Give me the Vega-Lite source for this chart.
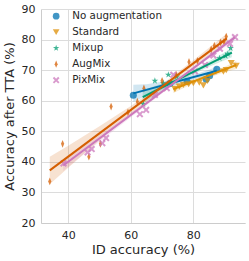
{
  "$schema": "https://vega.github.io/schema/vega-lite/v6.json",
  "width": 204,
  "height": 214,
  "autosize": {"type": "none"},
  "padding": {"left": 41, "top": 9, "right": 4, "bottom": 38},
  "config": {
    "font": "DejaVu Sans",
    "view": {"stroke": null},
    "axis": {
      "grid": true, "gridColor": "#dcdcdc", "gridWidth": 1,
      "domain": true, "domainColor": "#cccccc", "domainWidth": 1,
      "ticks": false, "labelColor": "#262626", "titleColor": "#262626",
      "labelFontSize": 11, "titleFontSize": 13, "titleFontWeight": "normal",
      "labelPadding": 6, "labelOverlap": false
    },
    "legend": {
      "orient": "none", "legendX": 10, "legendY": 2, "title": null,
      "labelFontSize": 10.3, "labelColor": "#262626", "symbolSize": 45,
      "symbolOpacity": 0.75, "rowPadding": 5, "labelOffset": 11, "symbolStrokeWidth": 0
    }
  },
  "datasets": {
    "pts": [
      {"group": "No augmentation", "id": 60.8, "tta": 61.8},
      {"group": "No augmentation", "id": 72.5, "tta": 65.6},
      {"group": "No augmentation", "id": 78.0, "tta": 66.3},
      {"group": "No augmentation", "id": 84.1, "tta": 67.0},
      {"group": "No augmentation", "id": 85.2, "tta": 68.2},
      {"group": "No augmentation", "id": 87.5, "tta": 70.3},
      {"group": "Standard", "id": 74.1, "tta": 63.8},
      {"group": "Standard", "id": 75.5, "tta": 64.6},
      {"group": "Standard", "id": 76.8, "tta": 65.2},
      {"group": "Standard", "id": 78.5, "tta": 65.4},
      {"group": "Standard", "id": 80.0, "tta": 65.7},
      {"group": "Standard", "id": 81.9, "tta": 65.9},
      {"group": "Standard", "id": 83.2, "tta": 65.0},
      {"group": "Standard", "id": 84.5, "tta": 66.5},
      {"group": "Standard", "id": 89.6, "tta": 69.5},
      {"group": "Standard", "id": 90.5, "tta": 70.0},
      {"group": "Standard", "id": 92.1, "tta": 72.3},
      {"group": "Standard", "id": 93.7, "tta": 71.4},
      {"group": "Mixup", "id": 64.0, "tta": 58.9},
      {"group": "Mixup", "id": 67.7, "tta": 66.5},
      {"group": "Mixup", "id": 70.4, "tta": 65.7},
      {"group": "Mixup", "id": 72.0, "tta": 68.5},
      {"group": "Mixup", "id": 74.7, "tta": 67.9},
      {"group": "Mixup", "id": 88.4, "tta": 73.9},
      {"group": "Mixup", "id": 90.3, "tta": 74.7},
      {"group": "Mixup", "id": 91.0, "tta": 75.3},
      {"group": "Mixup", "id": 91.9, "tta": 77.2},
      {"group": "AugMix", "id": 34.1, "tta": 33.6},
      {"group": "AugMix", "id": 38.2, "tta": 45.9},
      {"group": "AugMix", "id": 46.6, "tta": 41.7},
      {"group": "AugMix", "id": 50.3, "tta": 45.9},
      {"group": "AugMix", "id": 53.7, "tta": 58.1},
      {"group": "AugMix", "id": 59.1, "tta": 56.2},
      {"group": "AugMix", "id": 62.1, "tta": 59.7},
      {"group": "AugMix", "id": 64.2, "tta": 64.0},
      {"group": "AugMix", "id": 70.0, "tta": 66.5},
      {"group": "AugMix", "id": 74.5, "tta": 68.5},
      {"group": "AugMix", "id": 78.6, "tta": 72.7},
      {"group": "AugMix", "id": 81.3, "tta": 73.0},
      {"group": "AugMix", "id": 85.7, "tta": 76.8},
      {"group": "AugMix", "id": 86.7, "tta": 78.0},
      {"group": "AugMix", "id": 88.7, "tta": 79.1},
      {"group": "AugMix", "id": 89.8, "tta": 79.3},
      {"group": "AugMix", "id": 90.5, "tta": 81.0},
      {"group": "PixMix", "id": 38.5, "tta": 39.5},
      {"group": "PixMix", "id": 46.2, "tta": 43.1},
      {"group": "PixMix", "id": 47.5, "tta": 44.2},
      {"group": "PixMix", "id": 50.9, "tta": 46.1},
      {"group": "PixMix", "id": 52.1, "tta": 47.8},
      {"group": "PixMix", "id": 62.9, "tta": 55.6},
      {"group": "PixMix", "id": 64.9, "tta": 57.0},
      {"group": "PixMix", "id": 67.7, "tta": 61.9},
      {"group": "PixMix", "id": 71.5, "tta": 64.1},
      {"group": "PixMix", "id": 73.6, "tta": 68.5},
      {"group": "PixMix", "id": 80.5, "tta": 69.6},
      {"group": "PixMix", "id": 83.7, "tta": 71.7},
      {"group": "PixMix", "id": 86.4, "tta": 74.8},
      {"group": "PixMix", "id": 88.5, "tta": 77.0},
      {"group": "PixMix", "id": 91.7, "tta": 78.6},
      {"group": "PixMix", "id": 93.3, "tta": 80.8}
    ],
    "lines": [
      {"group": "No augmentation", "id": 60.8, "tta": 62.4},
      {"group": "No augmentation", "id": 87.5, "tta": 69.8},
      {"group": "Standard", "id": 73.6, "tta": 63.8},
      {"group": "Standard", "id": 93.7, "tta": 71.7},
      {"group": "Mixup", "id": 63.8, "tta": 61.2},
      {"group": "Mixup", "id": 92.3, "tta": 75.7},
      {"group": "AugMix", "id": 34.1, "tta": 37.2},
      {"group": "AugMix", "id": 90.7, "tta": 80.4},
      {"group": "PixMix", "id": 38.4, "tta": 38.8},
      {"group": "PixMix", "id": 93.3, "tta": 80.8}
    ],
    "bands": [
      {"group": "No augmentation", "id": 60.8, "tta": 59.6, "hi": 65.2},
      {"group": "No augmentation", "id": 65, "tta": 61.7, "hi": 65.4},
      {"group": "No augmentation", "id": 70, "tta": 63.7, "hi": 66.2},
      {"group": "No augmentation", "id": 75, "tta": 65.4, "hi": 67.2},
      {"group": "No augmentation", "id": 80, "tta": 66.9, "hi": 68.5},
      {"group": "No augmentation", "id": 85, "tta": 68.1, "hi": 70.1},
      {"group": "No augmentation", "id": 87.5, "tta": 68.5, "hi": 71.1},
      {"group": "Standard", "id": 73.6, "tta": 62.5, "hi": 65.1},
      {"group": "Standard", "id": 80, "tta": 65.6, "hi": 67.0},
      {"group": "Standard", "id": 85, "tta": 67.6, "hi": 69.0},
      {"group": "Standard", "id": 90, "tta": 69.35, "hi": 71.15},
      {"group": "Standard", "id": 93.7, "tta": 70.4, "hi": 73.0},
      {"group": "Mixup", "id": 63.8, "tta": 59.0, "hi": 63.4},
      {"group": "Mixup", "id": 70, "tta": 63.06, "hi": 65.66},
      {"group": "Mixup", "id": 75, "tta": 66.0, "hi": 67.8},
      {"group": "Mixup", "id": 80, "tta": 68.65, "hi": 70.25},
      {"group": "Mixup", "id": 85, "tta": 71.09, "hi": 72.89},
      {"group": "Mixup", "id": 92.3, "tta": 74.2, "hi": 77.2},
      {"group": "AugMix", "id": 34.1, "tta": 32.7, "hi": 41.7},
      {"group": "AugMix", "id": 40, "tta": 38.1, "hi": 45.3},
      {"group": "AugMix", "id": 50, "tta": 47.04, "hi": 51.64},
      {"group": "AugMix", "id": 60, "tta": 55.67, "hi": 58.27},
      {"group": "AugMix", "id": 70, "tta": 63.7, "hi": 65.5},
      {"group": "AugMix", "id": 80, "tta": 71.24, "hi": 73.24},
      {"group": "AugMix", "id": 90.7, "tta": 78.8, "hi": 82.0},
      {"group": "PixMix", "id": 38.4, "tta": 37.0, "hi": 40.6},
      {"group": "PixMix", "id": 45, "tta": 42.55, "hi": 45.15},
      {"group": "PixMix", "id": 55, "tta": 50.6, "hi": 52.4},
      {"group": "PixMix", "id": 65, "tta": 58.55, "hi": 59.75},
      {"group": "PixMix", "id": 75, "tta": 66.3, "hi": 67.3},
      {"group": "PixMix", "id": 85, "tta": 73.85, "hi": 75.05},
      {"group": "PixMix", "id": 93.3, "tta": 79.9, "hi": 81.7}
    ]
  },
  "encoding": {
    "x": {"field": "id", "type": "quantitative", "scale": {"domain": [31.3, 96.5], "nice": false, "zero": false}, "axis": {"values": [40, 60, 80], "title": "ID accuracy (%)", "titlePadding": 3}},
    "y": {"field": "tta", "type": "quantitative", "scale": {"domain": [20, 90], "nice": false, "zero": false}, "axis": {"values": [20, 30, 40, 50, 60, 70, 80, 90], "title": "Accuracy after TTA (%)", "titlePadding": 5}},
    "color": {
      "field": "group", "type": "nominal",
      "scale": {"domain": ["No augmentation", "Standard", "Mixup", "AugMix", "PixMix"], "range": ["#0173b2", "#de8f05", "#029e73", "#d55e00", "#cc78bc"]}
    }
  },
  "layer": [
    {
      "data": {"name": "bands"},
      "mark": {"type": "area", "opacity": 0.18},
      "encoding": {
        "y2": {"field": "hi"},
        "detail": {"field": "group"}
      }
    },
    {
      "data": {"name": "pts"},
      "mark": {"type": "point", "filled": true, "opacity": 0.75, "size": 50},
      "encoding": {
        "shape": {
          "field": "group", "type": "nominal",
          "scale": {"domain": ["No augmentation", "Standard", "Mixup", "AugMix", "PixMix"], "range": [
            "circle",
            "triangle-down",
            "M0,-1L0.224,-0.309L0.951,-0.309L0.363,0.118L0.588,0.809L0,0.382L-0.588,0.809L-0.363,0.118L-0.951,-0.309L-0.224,-0.309Z",
            "M0,-1.1L0.45,0L0,1.1L-0.45,0Z",
            "M-1,-0.6L-0.6,-1L0,-0.4L0.6,-1L1,-0.6L0.4,0L1,0.6L0.6,1L0,0.4L-0.6,1L-1,0.6L-0.4,0Z"
          ]}
        }
      }
    },
    {
      "data": {"name": "lines"},
      "mark": {"type": "line", "strokeWidth": 2},
      "encoding": {
        "detail": {"field": "group"}
      }
    }
  ]
}
